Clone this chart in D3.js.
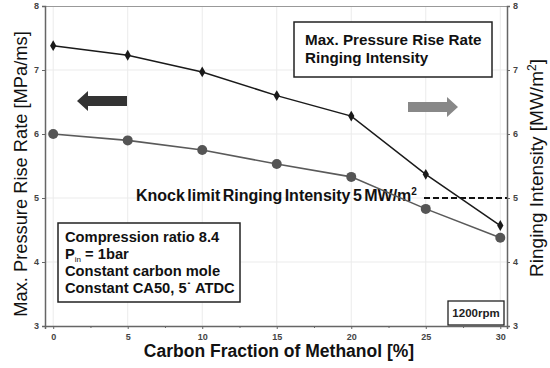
<!DOCTYPE html>
<html>
<head>
<meta charset="utf-8">
<script src="https://cdn.jsdelivr.net/npm/d3@7"></script>
<style>
  html, body { margin: 0; padding: 0; background: #fff; }
  svg { display: block; font-family: "Liberation Sans", Arial, sans-serif; }
</style>
</head>
<body>
<svg id="chart" width="550" height="368"></svg>
<script>
// Carbon fraction of methanol [%]
const carbonFraction = [0, 5, 10, 15, 20, 25, 30];
// Max. pressure rise rate [MPa/ms] (left axis)
const pressureRiseRate = [7.38, 7.23, 6.97, 6.60, 6.28, 5.37, 4.57];
// Ringing intensity [MW/m²] (right axis)
const ringingIntensity = [6.00, 5.90, 5.75, 5.53, 5.33, 4.83, 4.38];
const xTicks = [0, 5, 10, 15, 20, 25, 30];
const xMinorTicks = [2.5, 7.5, 12.5, 17.5, 22.5, 27.5];
const yTicks = [3, 4, 5, 6, 7, 8];
const knockLimit = 5;
const conditionLines = ["Compression ratio 8.4", "P_in = 1bar", "Constant carbon mole", "Constant CA50, 5˙ ATDC"];

const svg = d3.select("#chart");
const L = 45, R = 507, T = 6, B = 326;

const x = d3.scaleLinear().domain([-0.55, 30.45]).range([L, R]);
const yLeft = d3.scaleLinear().domain([3, 8]).range([B, T]);
const yRight = d3.scaleLinear().domain([3, 8]).range([B, T]);

// grid
const grid = svg.append("g").attr("stroke", "#ebebeb").attr("stroke-width", 1);
grid.selectAll(".gx").data(xTicks).join("line")
  .attr("x1", d => x(d)).attr("x2", d => x(d)).attr("y1", T).attr("y2", B);
grid.selectAll(".gy").data(yTicks.slice(1, -1)).join("line")
  .attr("x1", L).attr("x2", R).attr("y1", d => yLeft(d)).attr("y2", d => yLeft(d));

// frame top
svg.append("line").attr("x1", L).attr("x2", R).attr("y1", T + 0.5).attr("y2", T + 0.5)
  .attr("stroke", "#999").attr("stroke-width", 1.2);

const tickFont = g => g.selectAll("text")
  .attr("font-size", 9).attr("font-weight", "bold").attr("fill", "#444");

// axes
const axL = svg.append("g").attr("transform", `translate(${L},0)`)
  .call(d3.axisLeft(yLeft).tickValues(yTicks).tickSize(3).tickPadding(3).tickFormat(d3.format("d")));
const axR = svg.append("g").attr("transform", `translate(${R},0)`)
  .call(d3.axisRight(yRight).tickValues(yTicks).tickSize(3).tickPadding(3).tickFormat(d3.format("d")));
const axB = svg.append("g").attr("transform", `translate(0,${B})`)
  .call(d3.axisBottom(x).tickValues(xTicks).tickSize(3).tickPadding(5).tickFormat(d3.format("d")));
svg.append("g").attr("transform", `translate(0,${B})`)
  .call(d3.axisBottom(x).tickValues(xMinorTicks).tickSize(2).tickFormat(""))
  .call(g => g.select(".domain").remove());
[axL, axR, axB].forEach(a => {
  a.call(tickFont);
  a.select(".domain").attr("stroke", "#666").attr("stroke-width", 1.5);
});
svg.selectAll(".tick line").attr("stroke", "#666");

// knock limit line
svg.append("line")
  .attr("x1", 424).attr("x2", R).attr("y1", yRight(knockLimit)).attr("y2", yRight(knockLimit))
  .attr("stroke", "#111").attr("stroke-width", 2).attr("stroke-dasharray", "6,3");
const knockText = svg.append("text").attr("x", 136).attr("y", yRight(knockLimit) + 3)
  .attr("font-size", 16).attr("font-weight", "bold").attr("fill", "#111")
  .attr("letter-spacing", 0).attr("word-spacing", -2);
knockText.append("tspan").text("Knock limit Ringing Intensity 5 MW/m");
knockText.append("tspan").attr("font-size", 10).attr("dy", -6).text("2");

// series lines
const pts = (ys, sc) => carbonFraction.map((c, i) => [x(c), sc(ys[i])]);
const line = d3.line();
svg.append("path").attr("d", line(pts(ringingIntensity, yRight)))
  .attr("fill", "none").attr("stroke", "#5a5a5a").attr("stroke-width", 1.6);
svg.selectAll(".ri").data(carbonFraction).join("circle")
  .attr("cx", d => x(d)).attr("cy", (d, i) => yRight(ringingIntensity[i])).attr("r", 5)
  .attr("fill", "#555");

svg.append("path").attr("d", line(pts(pressureRiseRate, yLeft)))
  .attr("fill", "none").attr("stroke", "#1a1a1a").attr("stroke-width", 1.5);
svg.selectAll(".pr").data(carbonFraction).join("path")
  .attr("d", d3.symbol(d3.symbolDiamond, 34))
  .attr("transform", (d, i) => `translate(${x(d)},${yLeft(pressureRiseRate[i])})`)
  .attr("fill", "#1a1a1a");

// direction arrows
svg.append("path")
  .attr("d", "M77,101 L88,91 L88,96 L127,96 L127,106 L88,106 L88,111 Z")
  .attr("fill", "#333");
svg.append("path")
  .attr("d", "M458,107 L447,97 L447,102 L408,102 L408,112 L447,112 L447,117 Z")
  .attr("fill", "#888");

// legend box
svg.append("rect").attr("x", 294).attr("y", 22).attr("width", 198).attr("height", 55)
  .attr("fill", "#fff").attr("stroke", "#222").attr("stroke-width", 1.5);
svg.append("text").attr("x", 305).attr("y", 45).attr("font-size", 15.2).attr("font-weight", "bold")
  .attr("fill", "#111").text("Max. Pressure Rise Rate");
svg.append("text").attr("x", 305).attr("y", 63).attr("font-size", 15.2).attr("font-weight", "bold")
  .attr("fill", "#111").text("Ringing Intensity");

// operating conditions box
svg.append("rect").attr("x", 58).attr("y", 223).attr("width", 182).attr("height", 79)
  .attr("fill", "#fff").attr("stroke", "#222").attr("stroke-width", 1.5);
const cond = svg.append("g").attr("font-size", 14.7).attr("font-weight", "bold").attr("fill", "#111");
conditionLines.forEach((s, i) => {
  const t = cond.append("text").attr("x", 65).attr("y", 242 + i * 17);
  if (s.startsWith("P_in")) {
    t.append("tspan").text("P");
    t.append("tspan").attr("font-size", 8).attr("font-weight", "normal").attr("dy", 3).text("in");
    t.append("tspan").attr("dy", -3).text(s.slice(4));
  } else {
    t.text(s);
  }
});

// engine speed box
svg.append("rect").attr("x", 448).attr("y", 301).attr("width", 56).attr("height", 24)
  .attr("fill", "#fff").attr("stroke", "#222").attr("stroke-width", 1.3);
svg.append("text").attr("x", 476).attr("y", 317).attr("text-anchor", "middle")
  .attr("font-size", 11.5).attr("font-weight", "bold").attr("fill", "#222").text("1200rpm");

// axis titles
svg.append("text").attr("x", 279).attr("y", 357).attr("text-anchor", "middle")
  .attr("font-size", 17.5).attr("font-weight", "bold").attr("fill", "#111")
  .text("Carbon Fraction of Methanol [%]");
svg.append("text").attr("transform", "translate(27,174) rotate(-90)").attr("text-anchor", "middle")
  .attr("font-size", 18.3).attr("fill", "#111").text("Max. Pressure Rise Rate [MPa/ms]");
const rt = svg.append("text").attr("transform", "translate(543,168) rotate(-90)").attr("text-anchor", "middle")
  .attr("font-size", 19).attr("fill", "#111");
rt.append("tspan").text("Ringing Intensity [MW/m");
rt.append("tspan").attr("font-size", 12).attr("dy", -7).text("2");
rt.append("tspan").attr("dy", 7).text("]");
</script>
</body>
</html>
